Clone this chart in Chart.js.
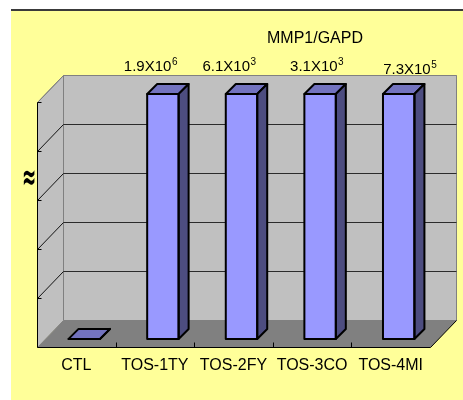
<!DOCTYPE html>
<html>
<head>
<meta charset="utf-8">
<script src="https://cdn.jsdelivr.net/npm/chart.js@4/dist/chart.umd.min.js"></script>
<style>
  html, body { margin: 0; padding: 0; background: #fff; }
  canvas { display: block; }
</style>
</head>
<body>
<canvas id="c" width="463" height="400"></canvas>
<script>
// Samples along the category axis
const categories = ['CTL', 'TOS-1TY', 'TOS-2FY', 'TOS-3CO', 'TOS-4MI'];
// MMP1 expression normalised to GAPD (control = 1)
const mmp1Ratio = [1, 1.9e6, 6.1e3, 3.1e3, 7.3e5];
// Value-axis levels (unlabelled); the axis is broken above the top level
const axisLevels = [0, 500, 1000, 1500, 2000, 2500];
const chartTitle = 'MMP1/GAPD';

const axisTop = axisLevels[axisLevels.length - 1];

// Layout of the pseudo-3D box, relative to the plane of the bar fronts
const FRONT = { dx: -8, dy: 8 };     // front edge of the floor
const BACK = { dx: 18, dy: -19 };    // back wall
const BAR_DEPTH = { dx: 10, dy: -10 };
// Hand-placed offsets of the value captions above the bars
const captionShift = [[0, 0], [-12.5, 0], [-12.5, 0], [-3.5, 0], [11, 2.5]];

const COLORS = {
  page: '#FFFF99',
  wall: '#C0C0C0',
  floor: '#808080',
  edge: '#808080',
  grid: '#2b2b2b',
  barFront: '#9999FF',
  barTop: '#7373BF',
  barSide: '#4D4D80'
};

function poly(ctx, pts, fill, stroke, lw) {
  ctx.beginPath();
  ctx.moveTo(pts[0][0], pts[0][1]);
  for (let i = 1; i < pts.length; i++) ctx.lineTo(pts[i][0], pts[i][1]);
  ctx.closePath();
  if (fill) { ctx.fillStyle = fill; ctx.fill(); }
  if (stroke) { ctx.strokeStyle = stroke; ctx.lineWidth = lw || 1; ctx.stroke(); }
}

function line(ctx, x1, y1, x2, y2, color, lw) {
  ctx.beginPath();
  ctx.moveTo(x1, y1);
  ctx.lineTo(x2, y2);
  ctx.strokeStyle = color;
  ctx.lineWidth = lw || 1;
  ctx.stroke();
}

const crisp = v => Math.round(v) + 0.5;

const scene3d = {
  id: 'scene3d',
  beforeDraw(chart) {
    const ctx = chart.ctx;
    ctx.save();
    ctx.fillStyle = '#fff';
    ctx.fillRect(0, 0, chart.width, chart.height);
    ctx.fillStyle = COLORS.page;
    ctx.fillRect(11, 11, chart.width - 11, chart.height - 11);
    ctx.fillStyle = '#3a3a3a';
    ctx.fillRect(11, 9, chart.width - 11, 2);
    ctx.restore();
  },
  beforeDatasetsDraw(chart) {
    const { ctx, chartArea: a, scales: { x, y } } = chart;
    const fl = crisp(a.left + FRONT.dx), fr = crisp(a.right + FRONT.dx);
    const ft = crisp(a.top + FRONT.dy), fb = crisp(a.bottom + FRONT.dy);
    const bl = crisp(a.left + BACK.dx), br = crisp(a.right + BACK.dx);
    const bt = crisp(a.top + BACK.dy), bb = crisp(a.bottom + BACK.dy);
    ctx.save();
    // walls and floor
    poly(ctx, [[bl, bt], [br, bt], [br, bb], [bl, bb]], COLORS.wall, COLORS.edge);
    poly(ctx, [[fl, ft], [bl, bt], [bl, bb], [fl, fb]], COLORS.wall, COLORS.edge);
    poly(ctx, [[fl, fb], [bl, bb], [br, bb], [fr, fb]], COLORS.floor, null);
    // value-axis gridlines on the back and side walls
    axisLevels.forEach(v => {
      if (v === 0) return;
      const p = y.getPixelForValue(v);
      const pb = crisp(p + BACK.dy), pf = crisp(p + FRONT.dy);
      const col = v === axisTop ? COLORS.edge : COLORS.grid;
      line(ctx, bl, pb, br, pb, col);
      line(ctx, fl, pf, bl, pb, v === axisTop ? COLORS.edge : '#111');
      line(ctx, fl, pf, fl + 4, pf, '#000');
    });
    // axis lines
    line(ctx, fl, ft, fl, fb, '#000');
    line(ctx, fl, fb, fr, fb, '#000');
    line(ctx, fr, fb, br, bb, '#000');
    // category separators on the floor edge
    for (let i = 0; i < categories.length - 1; i++) {
      const bx = crisp((x.getPixelForTick(i) + x.getPixelForTick(i + 1)) / 2 + FRONT.dx);
      line(ctx, bx, fb, bx, fb - 5, '#000');
    }
    ctx.restore();
  },
  afterDatasetsDraw(chart) {
    const ctx = chart.ctx;
    const meta = chart.getDatasetMeta(0);
    const { dx, dy } = BAR_DEPTH;
    ctx.save();
    ctx.lineJoin = 'round';
    meta.data.forEach(bar => {
      const p = bar.getProps(['x', 'y', 'base', 'width'], true);
      const l = p.x - p.width / 2, r = p.x + p.width / 2;
      const t = Math.min(p.y, p.base), b = Math.max(p.y, p.base);
      poly(ctx, [[l, t], [l + dx, t + dy], [r + dx, t + dy], [r, t]], COLORS.barTop, '#000', 2);
      poly(ctx, [[r, t], [r + dx, t + dy], [r + dx, b + dy], [r, b]], COLORS.barSide, '#000', 2);
      poly(ctx, [[l, t], [r, t], [r, b], [l, b]], null, '#000', 2);
    });
    ctx.restore();
  },
  afterDraw(chart) {
    const ctx = chart.ctx;
    const meta = chart.getDatasetMeta(0);
    ctx.save();
    ctx.fillStyle = '#000';
    // title
    ctx.font = '16px "Liberation Sans", Arial, sans-serif';
    ctx.textAlign = 'center';
    ctx.textBaseline = 'alphabetic';
    ctx.fillText(chartTitle, 315, 43);
    // captions for bars that run past the axis break
    ctx.textAlign = 'left';
    mmp1Ratio.forEach((v, i) => {
      if (v <= axisTop) return;
      const [m, e] = v.toExponential(1).split('e');
      const main = m + 'X10';
      const exp = String(Number(e));
      const bar = meta.data[i];
      ctx.font = '15px "Liberation Sans", Arial, sans-serif';
      const wMain = ctx.measureText(main).width;
      ctx.font = '10px "Liberation Sans", Arial, sans-serif';
      const wExp = ctx.measureText(exp).width;
      const x0 = bar.x + captionShift[i][0] - (wMain + wExp) / 2;
      const base = chart.chartArea.top - 23 + captionShift[i][1];
      ctx.font = '15px "Liberation Sans", Arial, sans-serif';
      ctx.fillText(main, x0, base);
      ctx.font = '10px "Liberation Sans", Arial, sans-serif';
      ctx.fillText(exp, x0 + wMain + 0.5, base - 6);
    });
    // axis-break mark
    ctx.translate(29, 180);
    ctx.scale(0.65, 1.4);
    ctx.font = 'bold 26px "DejaVu Sans", sans-serif';
    ctx.textAlign = 'center';
    ctx.textBaseline = 'middle';
    ctx.fillText('\u2248', 0, 0);
    ctx.restore();
  }
};

new Chart(document.getElementById('c'), {
  type: 'bar',
  data: {
    labels: categories,
    datasets: [{
      label: chartTitle,
      // bars past the broken axis stop at its top level
      data: mmp1Ratio.map(v => Math.min(v, axisTop)),
      backgroundColor: COLORS.barFront,
      borderColor: '#000',
      borderWidth: 0,
      borderSkipped: false,
      barPercentage: 0.4,
      categoryPercentage: 1
    }]
  },
  options: {
    responsive: false,
    animation: false,
    devicePixelRatio: 1,
    layout: { padding: { left: 45, right: 25, top: 94, bottom: 0 } },
    plugins: {
      legend: { display: false },
      tooltip: { enabled: false },
      title: { display: false }
    },
    scales: {
      x: {
        grid: { display: false, drawTicks: false },
        border: { display: false },
        ticks: {
          color: '#000',
          font: { family: '"Liberation Sans", Arial, sans-serif', size: 16 },
          padding: 17,
          labelOffset: FRONT.dx,
          maxRotation: 0,
          autoSkip: false
        },
        afterFit(scale) { scale.height = 61; }
      },
      y: {
        display: false,
        min: 0,
        max: axisTop,
        ticks: { stepSize: axisLevels[1] - axisLevels[0] }
      }
    }
  },
  plugins: [scene3d]
});
</script>
</body>
</html>
